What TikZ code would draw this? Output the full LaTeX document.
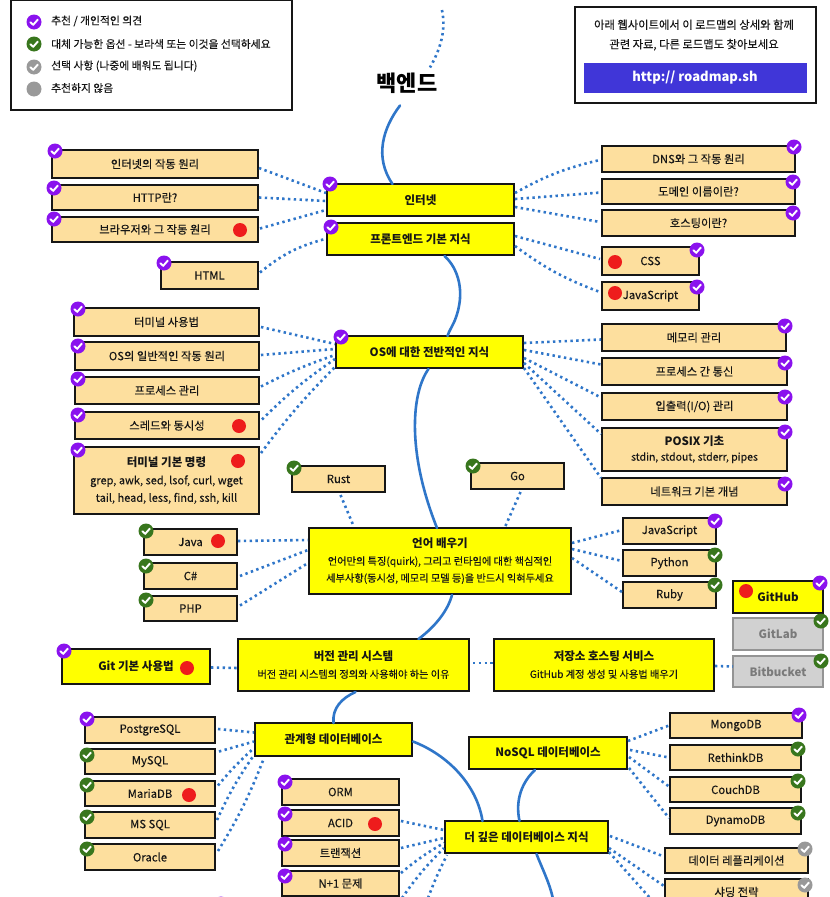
\documentclass[tikz,border=0pt]{standalone}
\usepackage{fontspec}
\setmainfont{Noto Sans CJK KR}[FakeBold=0.2,BoldFeatures={FakeBold=0}]
\usetikzlibrary{calc}
\definecolor{boxtan}{HTML}{FDDF9E}
\definecolor{boxyel}{HTML}{FFFF00}
\definecolor{roadblue}{HTML}{2F76C9}
\definecolor{bpurple}{HTML}{8A12EE}
\definecolor{bgreen}{HTML}{38761D}
\definecolor{bgray}{HTML}{999999}
\definecolor{dotred}{HTML}{EE1C1C}
\definecolor{btnblue}{HTML}{4036D8}
\definecolor{inkk}{HTML}{161616}
\tikzset{
  x=1pt,y=-1pt,
  boxbase/.style={rectangle,draw=inkk,line width=1.7pt,inner sep=0pt,outer sep=0pt,align=center,font=\fontsize{11.3}{18}\selectfont,text=inkk},
  tan/.style={boxbase,fill=boxtan},
  yel/.style={boxbase,fill=boxyel},
  ghost/.style={boxbase,fill=black!18,draw=black!42,text=black!52,font=\fontsize{11.5}{18}\selectfont\bfseries},
  legendbox/.style={rectangle,draw=inkk,line width=1.7pt,fill=white,inner sep=0pt,outer sep=0pt},
  roadline/.style={draw=roadblue,line width=2.6pt,line cap=round},
  dotline/.style={draw=roadblue,line width=2.6pt,dash pattern=on 2.4pt off 3.4pt},
  badgedot/.style={circle,fill=#1,draw=none,minimum size=15pt,inner sep=0pt},
  checkmark/.style={draw=white,line width=1.9pt,line cap=round,line join=round},
  reddot/.style={circle,fill=dotred,draw=none,minimum size=14pt,inner sep=0pt},
  lbl/.style={inner sep=0pt,font=\fontsize{10.8}{14}\selectfont,text=inkk,anchor=west},
}
\newcommand{\bx}[7]{%
  \pgfmathsetmacro{\bcx}{(#3+#5)/2}\pgfmathsetmacro{\bcy}{(#4+#6)/2}%
  \pgfmathsetmacro{\bw}{#5-#3}\pgfmathsetmacro{\bh}{#6-#4}%
  \node[#2,minimum width=\bw pt,minimum height=\bh pt] (#1) at (\bcx,\bcy) {#7};}
\newcommand{\bdg}[4]{%
  \node[badgedot=#2] (#1) at (#3,#4) {};
  \draw[checkmark] ($(#1.center)+(-3.6,0.2)$) -- ($(#1.center)+(-0.8,2.8)$) -- ($(#1.center)+(3.8,-2.4)$);}
\newcommand{\red}[3]{\node[reddot] (#1) at (#2,#3) {};}
\newcommand{\dc}[5][]{\draw[dotline,#1] ($(#2)+(#3)$) to ($(#4)+(#5)$);}
\newcommand{\hdr}[1]{{\fontsize{11.5}{18}\selectfont\bfseries #1}}
\newcommand{\sm}[1]{{\fontsize{10.2}{18}\selectfont #1}}
\begin{document}
\begin{tikzpicture}
\useasboundingbox (0,0) rectangle (830,897);
\clip (0,0) rectangle (830,897);
\fill[white] (0,0) rectangle (830,897);

% boxes
\bx{legend}{legendbox}{11}{0}{292}{110}{}
\bx{web}{legendbox}{575}{7}{816}{103}{}
\bx{btn}{boxbase,fill=btnblue,draw=btnblue,line width=0.5pt,text=white,font=\fontsize{13}{16}\selectfont\bfseries}{584}{63}{806}{92}{http:// roadmap.sh}
\node[inner sep=0pt,font=\fontsize{22}{26}\selectfont\bfseries] (title) at (407,83) {백엔드};
\node[inner sep=0pt,align=center,font=\fontsize{11.3}{19.5}\selectfont,text=inkk] (webtxt) at (694,35) {아래 웹사이트에서 이 로드맵의 상세와 함께\\관련 자료, 다른 로드맵도 찾아보세요};

% legend
\node[lbl] (l1) at (51,21) {추천 / 개인적인 의견};
\node[lbl] (l2) at (51,44) {대체 가능한 옵션 - 보라색 또는 이것을 선택하세요};
\node[lbl] (l3) at (51,66) {선택 사항 (나중에 배워도 됩니다)};
\node[lbl] (l4) at (51,88) {추천하지 않음};
\bdg{lb1}{bpurple}{34}{22}
\bdg{lb2}{bgreen}{34}{44}
\bdg{lb3}{bgray}{34}{67}
\node[badgedot=bgray] (lb4) at (34,89) {};

% main nodes
\bx{inet}{yel}{327}{184}{514}{216}{\hdr{인터넷}}
\bx{front}{yel}{327}{223}{514}{255}{\hdr{프론트엔드 기본 지식}}
\bx{os}{yel}{336}{336}{523}{368}{\hdr{OS에 대한 전반적인 지식}}
\bx{lang}{yel}{309}{528}{571}{594}{\hdr{언어 배우기}\\[-1pt]\sm{언어만의 특징(quirk), 그리고 런타임에 대한 핵심적인}\\[-1pt]\sm{세부사항(동시성, 메모리 모델 등)을 반드시 익혀두세요}}
\bx{vcs}{yel}{238}{639}{469}{691}{\hdr{버전 관리 시스템}\\[-1pt]\sm{버전 관리 시스템의 정의와 사용해야 하는 이유}}
\bx{repo}{yel}{494}{639}{714}{691}{\hdr{저장소 호스팅 서비스}\\[-1pt]\sm{GitHub 계정 생성 및 사용법 배우기}}
\bx{git}{yel}{62}{649}{210}{684}{\hdr{Git 기본 사용법}}
\bx{rdb}{yel}{255}{723}{412}{756}{\hdr{관계형 데이터베이스}}
\bx{nosql}{yel}{469}{737}{627}{769}{\hdr{NoSQL 데이터베이스}}
\bx{deep}{yel}{445}{821}{608}{853}{\hdr{더 깊은 데이터베이스 지식}}

% internet left/right
\bx{howinet}{tan}{52}{150}{258}{178}{인터넷의 작동 원리}
\bx{http}{tan}{52}{185}{258}{210}{HTTP란?}
\bx{browser}{tan}{52}{217}{258}{242}{브라우저와 그 작동 원리}
\bx{html}{tan}{161}{262}{258}{289}{HTML}
\bx{dns}{tan}{602}{146}{795}{172}{DNS와 그 작동 원리}
\bx{domain}{tan}{602}{179}{795}{204}{도메인 이름이란?}
\bx{hosting}{tan}{602}{210}{795}{236}{호스팅이란?}
\bx{css}{tan}{602}{247}{699}{275}{CSS}
\bx{js}{tan}{602}{282}{699}{310}{JavaScript}

% OS
\bx{termuse}{tan}{74}{308}{259}{336}{터미널 사용법}
\bx{osgen}{tan}{75}{342}{259}{370}{OS의 일반적인 작동 원리}
\bx{proc}{tan}{75}{377}{259}{404}{프로세스 관리}
\bx{thread}{tan}{75}{412}{259}{439}{스레드와 동시성}
\bx{termcmd}{tan,font=\fontsize{11}{17.5}\selectfont}{74}{447}{259}{514}{\hdr{터미널 기본 명령}\\grep, awk, sed, lsof, curl, wget\\tail, head, less, find, ssh, kill}
\bx{mem}{tan}{602}{324}{786}{351}{메모리 관리}
\bx{ipc}{tan}{602}{358}{787}{385}{프로세스 간 통신}
\bx{io}{tan}{602}{393}{787}{420}{입출력(I/O) 관리}
\bx{posix}{tan,font=\fontsize{10.5}{15}\selectfont}{602}{428}{787}{471}{\hdr{POSIX 기초}\\stdin, stdout, stderr, pipes}
\bx{net}{tan}{602}{478}{787}{505}{네트워크 기본 개념}

% languages
\bx{rust}{tan}{292}{466}{385}{492}{Rust}
\bx{go}{tan}{471}{463}{564}{489}{Go}
\bx{java}{tan}{144}{529}{237}{555}{Java}
\bx{csharp}{tan}{144}{563}{237}{589}{C\#}
\bx{php}{tan}{144}{596}{237}{621}{PHP}
\bx{js2}{tan}{623}{518}{716}{544}{JavaScript}
\bx{python}{tan}{623}{550}{716}{576}{Python}
\bx{ruby}{tan}{623}{582}{716}{608}{Ruby}

% hosting
\bx{github}{yel}{733}{581}{823}{613}{\hdr{GitHub}}
\bx{gitlab}{ghost}{733}{618}{823}{650}{GitLab}
\bx{bitb}{ghost}{733}{656}{823}{687}{Bitbucket}

% databases
\bx{pg}{tan}{85}{717}{215}{743}{PostgreSQL}
\bx{mysql}{tan}{85}{749}{215}{774}{MySQL}
\bx{maria}{tan}{85}{781}{215}{806}{MariaDB}
\bx{mssql}{tan}{85}{812}{215}{838}{MS SQL}
\bx{oracle}{tan}{85}{844}{215}{870}{Oracle}
\bx{orm}{tan}{282}{779}{399}{805}{ORM}
\bx{acid}{tan}{282}{810}{399}{836}{ACID}
\bx{tx}{tan}{282}{840}{399}{866}{트랜잭션}
\bx{nplus}{tan}{282}{871}{399}{896}{N+1 문제}
\bx{mongo}{tan}{670}{713}{802}{738}{MongoDB}
\bx{rethink}{tan}{670}{745}{801}{770}{RethinkDB}
\bx{couch}{tan}{670}{777}{801}{802}{CouchDB}
\bx{dynamo}{tan}{670}{808}{801}{834}{DynamoDB}
\bx{repl}{tan}{665}{848}{808}{873}{데이터 레플리케이션}
\bx{shard}{tan}{665}{879}{808}{905}{샤딩 전략}
\coordinate (offa) at (402,898);
\coordinate (offb) at (428,898);
\coordinate (offc) at (650,898);
\coordinate (offd) at (553,899);
\coordinate (tailtop) at (442,10);

% road lines
\draw[roadline] (title.south) ++(-7,12) .. controls (383,128) and (374,157) .. ($(inet.north)+(-28,0)$);
\draw[roadline] ($(front.south)+(24,1)$) .. controls (458,268) and (466,292) .. (455,320) .. controls (452,327) and (449,331) .. ($(os.north)+(18,0)$);
\draw[roadline] ($(os.south)+(-1,1)$) .. controls (412,392) and (406,450) .. ($(lang.north)+(-3,0)$);
\draw[roadline] ($(lang.south)+(12,1)$) .. controls (448,610) and (436,626) .. ($(vcs.north)+(65,0)$);
\draw[roadline] ($(vcs.south)+(2,1)$) .. controls (342,698) and (332,708) .. ($(rdb.north)+(0,0)$);
\draw[roadline] ($(rdb.east)+(1,2)$) .. controls (448,755) and (477,785) .. ($(deep.north)+(-44,0)$);
\draw[roadline] ($(nosql.south)+(-13,1)$) .. controls (522,782) and (515,800) .. ($(deep.north)+(-7,0)$);
\draw[roadline] ($(deep.south)+(10,1)$) .. controls (542,868) and (550,884) .. (offd);

% dotted
\draw[dotline] (tailtop) .. controls (446,30) and (441,48) .. ($(title.north)+(23,-5)$);
\dc{howinet.east}{1,4}{inet.west}{-1,-7}
\dc{http.east}{1,0}{inet.west}{-1,1}
\dc{browser.east}{2,-1}{inet.west}{-1,10}
\draw[dotline] ($(html.east)+(2,-3)$) to[bend left=12] ($(front.west)+(-2,0)$);
\draw[dotline] ($(inet.east)+(1,-7)$) to[bend left=8] ($(dns.west)+(-2,1)$);
\dc{inet.east}{1,-1}{domain.west}{-1,1}
\dc{inet.east}{1,7}{hosting.west}{-2,-1}
\dc{front.east}{1,-3}{css.west}{-2,-2}
\draw[dotline] ($(front.east)+(1,7)$) to[bend right=8] ($(js.west)+(-2,-4)$);

\dc{termuse.east}{2,5}{os.west}{-1,-8}
\dc{osgen.east}{2,-1}{os.west}{-1,-3}
\draw[dotline] ($(proc.east)+(2,-4)$) to[bend left=4] ($(os.west)+(-1,3)$);
\draw[dotline] ($(thread.east)+(3,-6)$) to[bend left=5] ($(os.west)+(-1,7)$);
\draw[dotline] ($(termcmd.north east)+(2,6)$) to[bend left=4] ($(os.south west)+(-1,-1)$);
\dc{os.east}{1,-9}{mem.west}{-1,2}
\dc{os.east}{1,-2}{ipc.west}{-1,-7}
\dc{os.east}{1,6}{io.west}{-1,-9}
\dc{os.east}{1,11}{posix.north west}{-1,6}
\dc{os.south east}{1,0}{net.north west}{-1,0}

\dc{rust.south}{2,3}{lang.north}{-86,-1}
\dc{go.south}{3,3}{lang.north}{65,-1}
\dc{java.east}{1,-1}{lang.west}{-1,-21}
\dc{csharp.east}{3,0}{lang.west}{-1,-11}
\dc{php.east}{3,-3}{lang.west}{-1,2}
\dc{lang.east}{1,-18}{js2.west}{-1,-1}
\dc{lang.east}{1,-12}{python.west}{-1,-2}
\dc{lang.east}{1,-3}{ruby.west}{-1,-3}

\dc{git.east}{1,1}{vcs.west}{0,3}
\dc{vcs.east}{4,-2}{repo.west}{-1,-2}
\dc{repo.east}{1,1}{bitb.west}{0,-5}

\dc{pg.east}{3,-1}{rdb.west}{-1,-7}
\dc{mysql.east}{4,-10}{rdb.west}{-1,2}
\draw[dotline] ($(maria.east)+(3,-8)$) to[bend left=4] ($(rdb.south west)+(-1,-8)$);
\draw[dotline] ($(mssql.east)+(2,-5)$) to[bend left=5] ($(rdb.south west)+(-1,-1)$);
\draw[dotline] ($(oracle.east)+(3,-6)$) to[bend right=5] ($(rdb.south west)+(9,2)$);

\dc{acid.east}{2,-2}{deep.west}{-1,-7}
\dc{tx.east}{2,-5}{deep.west}{-1,1}
\draw[dotline] ($(nplus.north east)+(2,2)$) to[bend left=5] ($(deep.west)+(-1,6)$);
\draw[dotline] (offa) to[bend left=5] ($(deep.west)+(-1,11)$);
\draw[dotline] (offb) to[bend left=3] ($(deep.south west)+(2,2)$);

\dc{nosql.east}{1,-12}{mongo.west}{-1,0}
\dc{nosql.east}{3,-3}{rethink.west}{-1,0}
\dc{nosql.east}{2,4}{couch.west}{-1,-3}
\dc{nosql.east}{2,15}{dynamo.west}{-1,-3}
\dc{deep.east}{2,-1}{repl.west}{-1,-4}
\dc{deep.east}{1,11}{shard.west}{-1,-6}
\dc{deep.east}{1,15}{offc}{0,0}

% red dots
\red{r1}{240}{230}
\red{r2}{615}{262}
\red{r3}{615}{293}
\red{r4}{239}{426}
\red{r5}{238}{461}
\red{r6}{218}{541}
\red{r7}{746}{591}
\red{r8}{187}{668}
\red{r9}{189}{795}
\red{r10}{375}{824}

% badges
\bdg{b1}{bpurple}{55}{151}
\bdg{b2}{bpurple}{54}{188}
\bdg{b3}{bpurple}{54}{219}
\bdg{b4}{bpurple}{164}{263}
\bdg{b5}{bpurple}{330}{184}
\bdg{b6}{bpurple}{331}{227}
\bdg{b7}{bpurple}{794}{147}
\bdg{b8}{bpurple}{793}{182}
\bdg{b9}{bpurple}{793}{213}
\bdg{b10}{bpurple}{697}{250}
\bdg{b11}{bpurple}{697}{287}
\bdg{b12}{bpurple}{78}{309}
\bdg{b13}{bpurple}{78}{346}
\bdg{b14}{bpurple}{78}{379}
\bdg{b15}{bpurple}{78}{415}
\bdg{b16}{bpurple}{78}{450}
\bdg{b17}{bpurple}{341}{337}
\bdg{b18}{bpurple}{785}{326}
\bdg{b19}{bpurple}{785}{363}
\bdg{b20}{bpurple}{785}{397}
\bdg{b21}{bpurple}{785}{432}
\bdg{b22}{bpurple}{785}{484}
\bdg{b23}{bgreen}{294}{468}
\bdg{b24}{bgreen}{473}{466}
\bdg{b25}{bgreen}{146}{531}
\bdg{b26}{bgreen}{146}{566}
\bdg{b27}{bgreen}{146}{600}
\bdg{b28}{bpurple}{715}{521}
\bdg{b29}{bgreen}{715}{555}
\bdg{b30}{bgreen}{715}{585}
\bdg{b31}{bpurple}{820}{583}
\bdg{b32}{bgreen}{821}{621}
\bdg{b33}{bgreen}{821}{661}
\bdg{b34}{bpurple}{64}{651}
\bdg{b35}{bpurple}{87}{719}
\bdg{b36}{bgreen}{87}{755}
\bdg{b37}{bgreen}{87}{785}
\bdg{b38}{bgreen}{87}{817}
\bdg{b39}{bgreen}{87}{849}
\bdg{b40}{bpurple}{285}{782}
\bdg{b41}{bpurple}{285}{814}
\bdg{b42}{bpurple}{285}{844}
\bdg{b43}{bpurple}{285}{876}
\bdg{b44}{bpurple}{799}{715}
\bdg{b45}{bgreen}{798}{749}
\bdg{b46}{bgreen}{798}{781}
\bdg{b47}{bgreen}{798}{813}
\bdg{b48}{bgray}{805}{849}
\bdg{b49}{bgray}{805}{885}
\node[badgedot=bpurple] (b50) at (221,904) {};
\end{tikzpicture}
\end{document}
